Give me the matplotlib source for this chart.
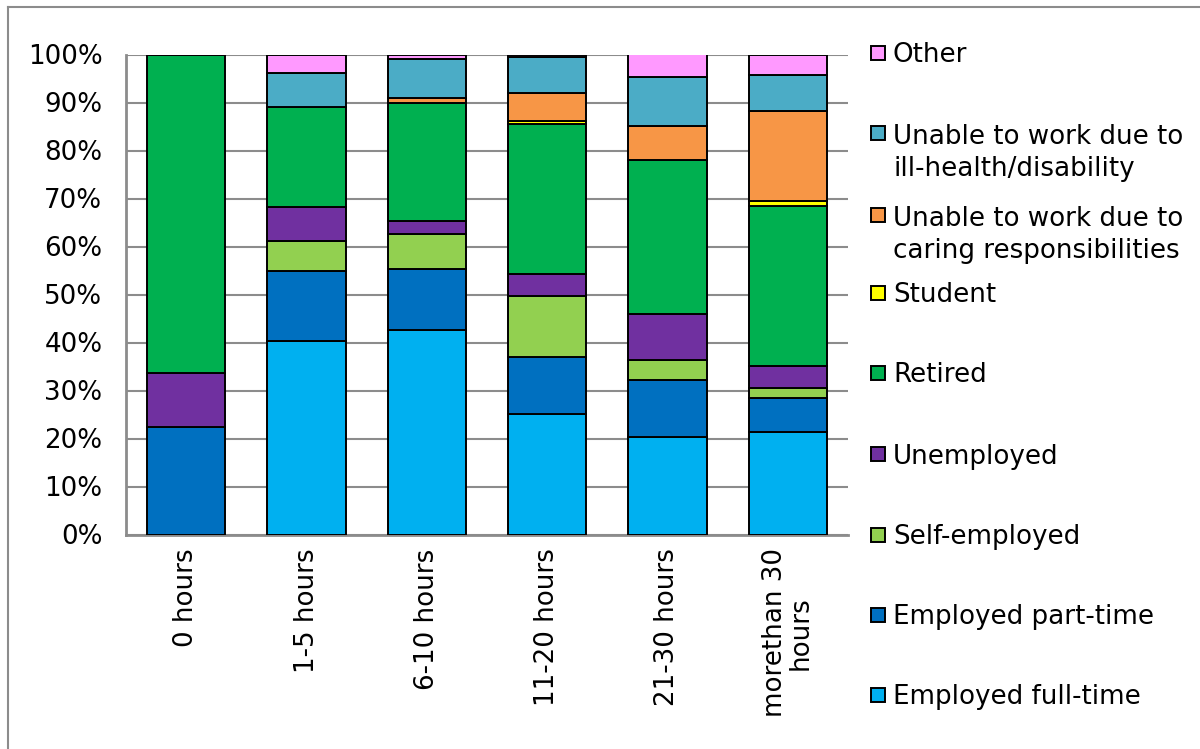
import matplotlib
matplotlib.use("Agg")
import matplotlib.pyplot as plt
from matplotlib.patches import Rectangle
from matplotlib.lines import Line2D
from matplotlib.ticker import PercentFormatter
import numpy as np

categories = ["0 hours", "1-5 hours", "6-10 hours", "11-20 hours", "21-30 hours", "morethan 30\nhours"]

employed_full_time = [0, 40.3, 42.6, 25.1, 20.3, 21.3]
employed_part_time = [22.5, 14.7, 12.7, 11.8, 11.9, 7.1]
self_employed = [0, 6.2, 7.4, 12.8, 4.1, 2.2]
unemployed = [11.2, 7.1, 2.7, 4.5, 9.7, 4.5]
retired = [66.3, 20.8, 24.6, 31.3, 32.1, 33.3]
student = [0, 0, 0, 0.7, 0, 1.0]
caring = [0, 0, 1.0, 5.7, 7.0, 18.8]
ill_health = [0, 7.1, 8.1, 7.5, 10.2, 7.5]
other = [0, 3.8, 0.9, 0.6, 4.7, 4.3]

series_names = ["Employed full-time", "Employed part-time", "Self-employed", "Unemployed",
                "Retired", "Student", "Unable to work due to\ncaring responsibilities",
                "Unable to work due to\nill-health/disability", "Other"]
series_values = [employed_full_time, employed_part_time, self_employed, unemployed,
                 retired, student, caring, ill_health, other]
colors = ["#00B0F0", "#0070C0", "#92D050", "#7030A0", "#00B050", "#FFFF00",
          "#F79646", "#4BACC6", "#FF99FF"]

FS = 18.8
plt.rcParams['font.family'] = ['DejaVu Sans']

fig = plt.figure(figsize=(12, 7.49), dpi=100)
W, H = 1200, 749
ax = fig.add_axes([126 / W, 1 - 534.5 / H, (848 - 126) / W, (534.5 - 54.5) / H])

x = np.arange(len(categories))
bottom = np.zeros(len(categories))
for name, vals, c in zip(series_names, series_values, colors):
    v = np.array(vals, dtype=float)
    ax.bar(x, v, bottom=bottom, width=0.65, color=c, edgecolor="black",
           linewidth=1.4, zorder=3)
    bottom += v

ax.set_xlim(-0.5, len(categories) - 0.5)
ax.set_ylim(0, 100)
ax.set_yticks(np.arange(0, 101, 10))
ax.yaxis.set_major_formatter(PercentFormatter(decimals=0))
ax.grid(axis="y", color="#8c8c8c", linewidth=1.5, zorder=0)
ax.set_axisbelow(True)
for s in ["top", "right"]:
    ax.spines[s].set_visible(False)
for s in ["left", "bottom"]:
    ax.spines[s].set_color("#8c8c8c")
    ax.spines[s].set_linewidth(2)
ax.tick_params(axis="both", length=0, labelsize=FS)
ax.tick_params(axis="y", pad=17)
ax.tick_params(axis="x", pad=10)
ax.set_xticks(x)
ax.set_xticklabels(categories, rotation=90, ha="center", va="top",
                   multialignment="center", linespacing=1.0)

# Legend (manual, reversed order, Excel-like uneven spacing)
legend_rows = [
    ("Other", 53),
    ("Unable to work due to\nill-health/disability", 133),
    ("Unable to work due to\ncaring responsibilities", 215),
    ("Student", 293),
    ("Retired", 373),
    ("Unemployed", 454),
    ("Self-employed", 535),
    ("Employed part-time", 615),
    ("Employed full-time", 695),
]
LINE_PX = 34
color_map = dict(zip(series_names, colors))
for label, ycen in legend_rows:
    c = color_map[label]
    nlines = label.count("\n") + 1
    fig.add_artist(Rectangle((871 / W, 1 - (ycen + 7) / H), 14 / W, 14 / H,
                             transform=fig.transFigure, facecolor=c,
                             edgecolor="black", linewidth=1.4))
    base = ycen + 9.5 + (nlines - 1) * LINE_PX
    fig.text(893 / W, 1 - base / H, label, fontsize=FS, va="baseline",
             ha="left", linespacing=1.3)

# chart area border (left and top)
fig.add_artist(Line2D([8 / W, 8 / W], [0, 1 - 7 / H], transform=fig.transFigure,
                      color="#8c8c8c", linewidth=1.5))
fig.add_artist(Line2D([8 / W, 1], [1 - 7 / H, 1 - 7 / H], transform=fig.transFigure,
                      color="#8c8c8c", linewidth=1.5))

fig.savefig("out.png", dpi=100)
